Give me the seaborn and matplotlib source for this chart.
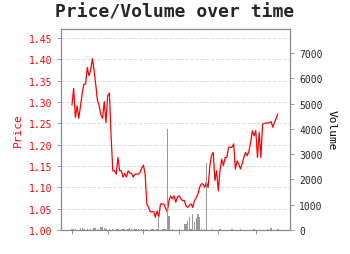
import matplotlib
matplotlib.use("Agg")
import matplotlib.pyplot as plt
import seaborn as sns
import pandas as pd
import numpy as np

price = [1.293, 1.332, 1.264, 1.291, 1.262, 1.290, 1.320, 1.342, 1.342, 1.381,
         1.362, 1.375, 1.402, 1.375, 1.340, 1.303, 1.291, 1.270, 1.262, 1.301,
         1.252, 1.315, 1.321, 1.220, 1.139, 1.139, 1.131, 1.170, 1.139, 1.139,
         1.124, 1.133, 1.124, 1.139, 1.133, 1.133, 1.124, 1.131, 1.131, 1.131,
         1.135, 1.145, 1.152, 1.131, 1.061, 1.053, 1.043, 1.043, 1.043, 1.030,
         1.045, 1.030, 1.061, 1.061, 1.061, 1.051, 1.043, 1.069, 1.080, 1.073,
         1.080, 1.065, 1.078, 1.080, 1.073, 1.069, 1.069, 1.057, 1.053, 1.058,
         1.061, 1.053, 1.069, 1.075, 1.085, 1.100, 1.108, 1.108, 1.100, 1.112,
         1.100, 1.150, 1.175, 1.182, 1.116, 1.139, 1.092, 1.140, 1.166, 1.151,
         1.170, 1.170, 1.194, 1.194, 1.194, 1.202, 1.143, 1.162, 1.155, 1.143,
         1.155, 1.170, 1.182, 1.174, 1.185, 1.206, 1.233, 1.221, 1.233, 1.170,
         1.229, 1.170, 1.248, 1.250, 1.251, 1.251, 1.251, 1.254, 1.241, 1.252,
         1.262, 1.272]

volume = [40, 30, 60, 20, 0, 100, 100, 30, 20, 40,
          10, 30, 20, 80, 100, 30, 20, 130, 120, 80,
          40, 20, 30, 10, 60, 20, 40, 30, 20, 50,
          30, 60, 20, 40, 70, 30, 20, 60, 40, 30,
          20, 50, 30, 20, 60, 10, 20, 30, 40, 20,
          30, 540, 20, 40, 30, 30, 3990, 560, 20, 30,
          10, 20, 10, 30, 20, 20, 240, 240, 370, 510,
          40, 630, 315, 470, 630, 500, 30, 20, 40, 2650,
          20, 10, 30, 10, 20, 20, 20, 60, 10, 20,
          10, 20, 10, 20, 30, 10, 20, 10, 20, 30,
          10, 20, 10, 20, 10, 20, 10, 30, 20, 10,
          20, 10, 20, 10, 20, 30, 20, 80, 20, 10,
          20, 60]

day = list(range(len(price)))
month_ticks = [0, 21, 42, 63, 86, 108]
price_ticks = [1.00, 1.05, 1.10, 1.15, 1.20, 1.25, 1.30, 1.35, 1.40, 1.45]
volume_ticks = [0, 1000, 2000, 3000, 4000, 5000, 6000, 7000]

df = pd.DataFrame({"day": day, "price": price, "volume": volume})

sns.set_style("white")
plt.rcParams["font.family"] = ["DejaVu Sans Mono"]

fig = plt.figure(figsize=(3.5, 2.55), dpi=100)
ax = fig.add_axes([0.174, 0.094, 0.655, 0.788])
ax2 = ax.twinx()

ax.yaxis.grid(True, linestyle="--", color="#dddddd", linewidth=0.7)
ax.set_axisbelow(True)
sns.lineplot(data=df, x="day", y="price", ax=ax, color="red", linewidth=0.9)

sns.barplot(data=df, x="day", y="volume", ax=ax2, color="#999999",
            width=0.75, saturation=1, native_scale=True, linewidth=0)

ax.set_xlim(-6.5, 128.2)
ax.set_ylim(1.0, 1.471)
ax2.set_ylim(0, 7950)
ax.set_xticks(month_ticks)
ax.set_xticklabels([])
ax.set_xlabel("")
ax.set_yticks(price_ticks)
ax.set_yticklabels([f"{v:.2f}" for v in price_ticks])
ax2.set_yticks(volume_ticks)

ax.set_ylabel("Price", color="red", fontsize=8)
ax2.set_ylabel("Volume", color="black", fontsize=8, rotation=270, labelpad=10)
ax.tick_params(axis="y", colors="red", labelsize=7, length=3, width=0.6, direction="out", left=True)
ax.tick_params(axis="x", length=3, width=0.6, direction="out", bottom=True, color="#888888")
ax.tick_params(axis="y", color="#888888")
ax2.tick_params(axis="y", labelsize=7, length=3, width=0.6, direction="out", right=True, color="#888888")

for a in (ax, ax2):
    for s in a.spines.values():
        s.set_color("#888888")
        s.set_linewidth(0.8)

fig.suptitle("Price/Volume over time", fontsize=13, fontweight="bold", y=0.985)

fig.savefig("out.png", dpi=100)
